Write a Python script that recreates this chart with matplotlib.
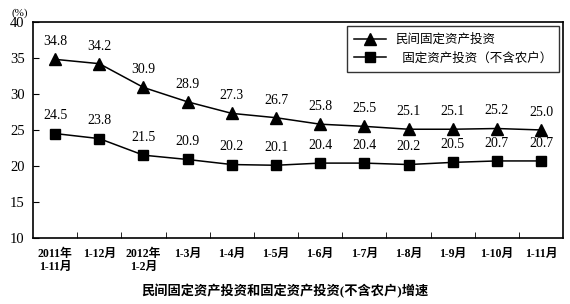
import matplotlib.pyplot as plt
import numpy as np

plt.rcParams['font.family'] = ['Liberation Serif', 'Noto Sans CJK SC']

# data
periods = ["2011年\n1-11月", "1-12月", "2012年\n1-2月", "1-3月", "1-4月", "1-5月",
           "1-6月", "1-7月", "1-8月", "1-9月", "1-10月", "1-11月"]
private_inv = [34.8, 34.2, 30.9, 28.9, 27.3, 26.7, 25.8, 25.5, 25.1, 25.1, 25.2, 25.0]
total_inv = [24.5, 23.8, 21.5, 20.9, 20.2, 20.1, 20.4, 20.4, 20.2, 20.5, 20.7, 20.7]

fig = plt.figure(figsize=(5.7, 3.04), dpi=100)
ax = fig.add_axes([0.058, 0.217, 0.93, 0.711])

x = np.arange(len(periods))
ax.plot(x, private_inv, color="black", lw=1.1, marker="^", ms=8,
        label="民间固定资产投资")
ax.plot(x, total_inv, color="black", lw=1.1, marker="s", ms=7,
        label="  固定资产投资（不含农户）")

for xi, v in zip(x, private_inv):
    ax.annotate(f"{v:.1f}", (xi, v), xytext=(0, 8), textcoords="offset points",
                ha="center", va="bottom", fontsize=10)
for xi, v in zip(x, total_inv):
    ax.annotate(f"{v:.1f}", (xi, v), xytext=(0, 8), textcoords="offset points",
                ha="center", va="bottom", fontsize=10)

ax.set_xlim(-0.5, len(periods) - 0.5)
ax.set_ylim(10, 40)
ax.set_yticks([10, 15, 20, 25, 30, 35, 40])
ax.tick_params(axis="y", direction="in", length=4, labelsize=10.5, pad=6)

ax.set_xticks(x)
ax.set_xticklabels(periods, fontsize=8.5, fontweight="bold", linespacing=1.1)
ax.set_xticks(x[:-1] + 0.5, minor=True)
ax.tick_params(axis="x", which="major", length=0, pad=7)
ax.tick_params(axis="x", which="minor", direction="in", length=4)

for s in ax.spines.values():
    s.set_linewidth(1.2)

ax.text(-0.025, 1.03, "(%)", transform=ax.transAxes, fontsize=8, ha="center")

leg = ax.legend(loc="upper right", bbox_to_anchor=(0.995, 0.985), fontsize=9,
                frameon=True, fancybox=False, edgecolor="black",
                handlelength=2.5, borderpad=0.6, labelspacing=0.5,
                borderaxespad=0.1)
leg.get_frame().set_linewidth(1)

fig.text(0.5, 0.03, "民间固定资产投资和固定资产投资(不含农户)增速",
         ha="center", fontsize=9.5, fontweight="bold")

fig.savefig("out.png", dpi=100)
